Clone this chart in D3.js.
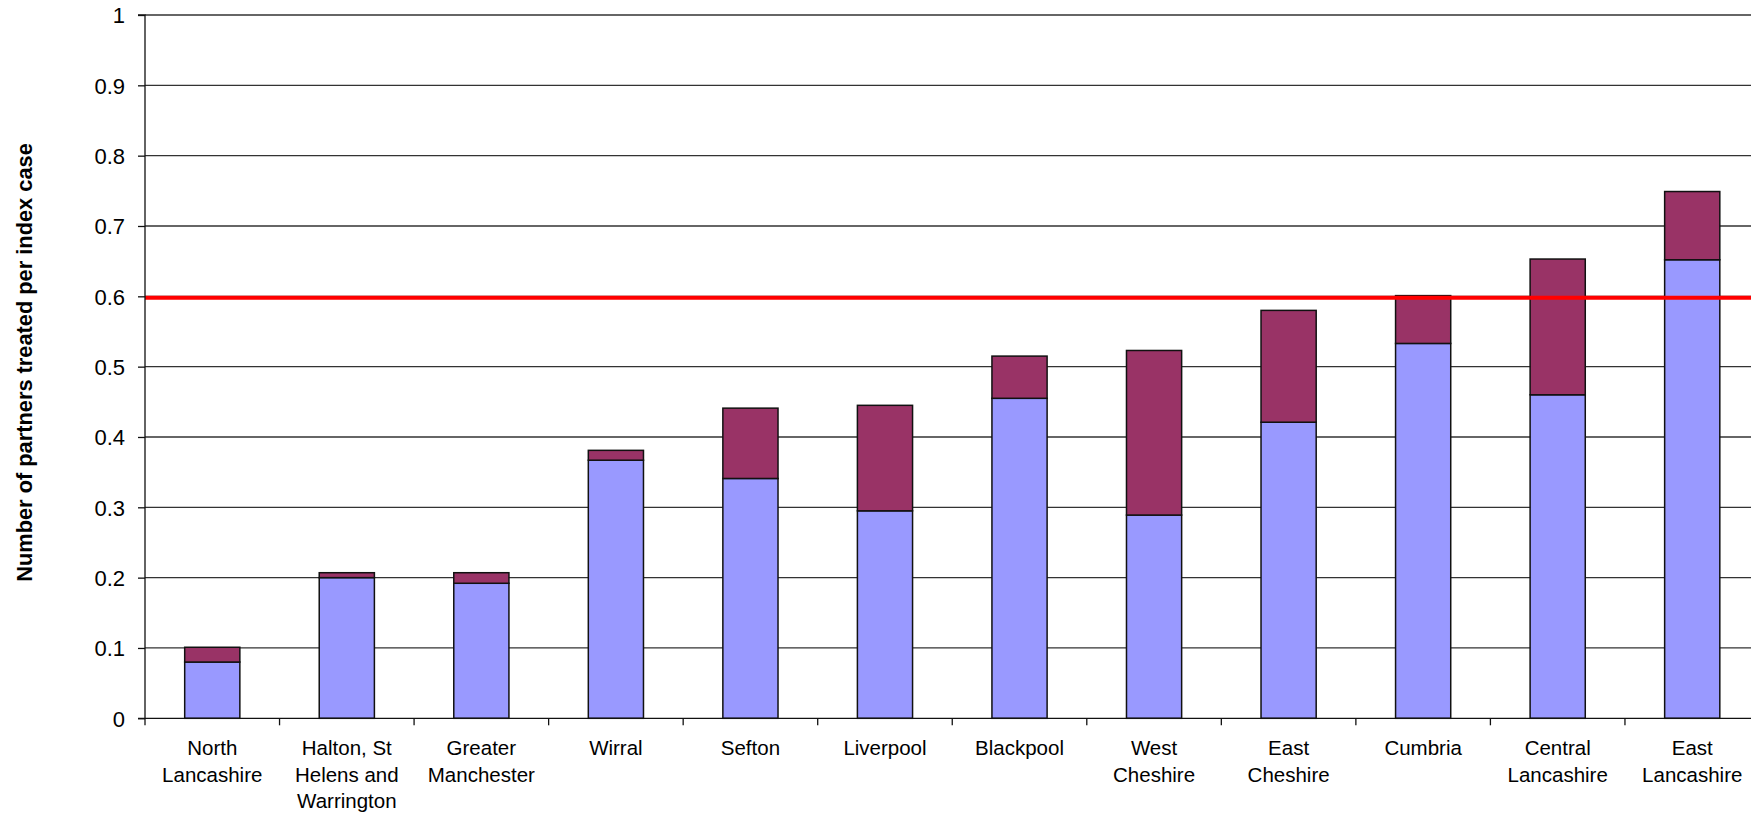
<!DOCTYPE html>
<html>
<head>
<meta charset="utf-8">
<script src="https://cdn.jsdelivr.net/npm/d3@7/dist/d3.min.js"></script>
<style>
  html, body { margin: 0; padding: 0; background: #fff; }
  svg { display: block; }
  text { font-family: "Liberation Sans", Arial, Helvetica, sans-serif; fill: #000; }
</style>
</head>
<body>
<svg id="chart" width="1751" height="814"></svg>
<script>
// ---- data ----
const categories = [
  "North Lancashire", "Halton, St Helens and Warrington", "Greater Manchester", "Wirral",
  "Sefton", "Liverpool", "Blackpool", "West Cheshire", "East Cheshire", "Cumbria",
  "Central Lancashire", "East Lancashire"
];
const categoryLines = [
  ["North", "Lancashire"], ["Halton, St", "Helens and", "Warrington"], ["Greater", "Manchester"], ["Wirral"],
  ["Sefton"], ["Liverpool"], ["Blackpool"], ["West", "Cheshire"], ["East", "Cheshire"], ["Cumbria"],
  ["Central", "Lancashire"], ["East", "Lancashire"]
];
const lowerValues = [0.080, 0.200, 0.192, 0.367, 0.341, 0.295, 0.455, 0.289, 0.421, 0.533, 0.460, 0.652];
const totalValues = [0.101, 0.207, 0.207, 0.381, 0.441, 0.445, 0.515, 0.523, 0.580, 0.601, 0.653, 0.749];
const yTicks = [0, 0.1, 0.2, 0.3, 0.4, 0.5, 0.6, 0.7, 0.8, 0.9, 1];
const yTickLabels = ["0", "0.1", "0.2", "0.3", "0.4", "0.5", "0.6", "0.7", "0.8", "0.9", "1"];
const targetValue = 0.598;
const yTitle = "Number of partners treated per index case";

// ---- layout ----
const svg = d3.select("#chart");
const W = 1751;
const mLeft = 145, mTop = 15, mBottom = 718.3, mRight = 1759.5;

const x = d3.scaleBand().domain(categories).range([mLeft, mRight]).paddingInner(0.59).paddingOuter(0.295);
const y = d3.scaleLinear().domain([0, 1]).range([mBottom, mTop]);
const step = x.step();

// gridlines
svg.append("g").selectAll("line").data(yTicks.filter(d => d > 0)).join("line")
  .attr("x1", mLeft).attr("x2", W)
  .attr("y1", d => y(d)).attr("y2", d => y(d))
  .attr("stroke", "#333").attr("stroke-width", 1.3);

// bars - lower segment
const bars = svg.append("g");
bars.selectAll("rect.low").data(categories).join("rect").attr("class", "low")
  .attr("x", d => x(d)).attr("width", x.bandwidth())
  .attr("y", (d, i) => y(lowerValues[i]))
  .attr("height", (d, i) => y(0) - y(lowerValues[i]))
  .attr("fill", "#9999FF").attr("stroke", "#111").attr("stroke-width", 1.5);
// upper segment
bars.selectAll("rect.up").data(categories).join("rect").attr("class", "up")
  .attr("x", d => x(d)).attr("width", x.bandwidth())
  .attr("y", (d, i) => y(totalValues[i]))
  .attr("height", (d, i) => y(lowerValues[i]) - y(totalValues[i]))
  .attr("fill", "#993366").attr("stroke", "#111").attr("stroke-width", 1.5);

// target line
svg.append("line")
  .attr("x1", mLeft).attr("x2", W)
  .attr("y1", y(targetValue)).attr("y2", y(targetValue))
  .attr("stroke", "#FF0000").attr("stroke-width", 4);

// y axis
const yAxis = d3.axisLeft(y).tickValues(yTicks).tickSize(7).tickPadding(13)
  .tickFormat((d, i) => yTickLabels[i]);
const gy = svg.append("g").attr("transform", `translate(${mLeft},0)`).call(yAxis);
gy.select(".domain").attr("stroke", "#111").attr("stroke-width", 1.3).attr("d", `M-7,${mTop}H0V${mBottom}`);
gy.selectAll(".tick line").attr("stroke", "#111").attr("stroke-width", 1.3);
gy.selectAll(".tick text").style("font-size", "22px").attr("font-family", "Liberation Sans, Arial, sans-serif").attr("fill", "#000").attr("dy", "0.36em");

// x axis
svg.append("line").attr("x1", mLeft - 7).attr("x2", W).attr("y1", mBottom).attr("y2", mBottom)
  .attr("stroke", "#111").attr("stroke-width", 1.3);
const boundaries = d3.range(categories.length + 1);
svg.append("g").selectAll("line").data(boundaries).join("line")
  .attr("x1", i => mLeft + i * step).attr("x2", i => mLeft + i * step)
  .attr("y1", mBottom).attr("y2", mBottom + 7)
  .attr("stroke", "#111").attr("stroke-width", 1.3);

// category labels
const lab = svg.append("g").selectAll("text").data(categories).join("text")
  .attr("text-anchor", "middle")
  .attr("x", d => x(d) + x.bandwidth() / 2)
  .attr("y", 755)
  .style("font-size", "20.5px");
lab.each(function(d, i) {
  const t = d3.select(this);
  categoryLines[i].forEach((line, j) => {
    t.append("tspan").attr("x", x(d) + x.bandwidth() / 2).attr("y", 755 + j * 26.7).text(line);
  });
});

// y title
svg.append("text")
  .attr("transform", `translate(32,362.5) rotate(-90)`)
  .attr("text-anchor", "middle")
  .style("font-size", "21.8px").style("font-weight", "bold")
  .text(yTitle);
</script>
</body>
</html>
